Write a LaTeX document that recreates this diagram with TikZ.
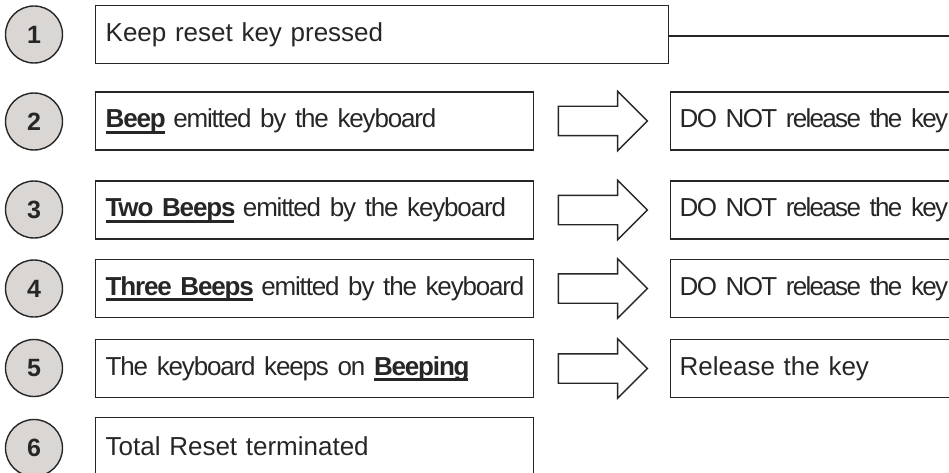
\documentclass[tikz,border=0pt]{standalone}
\usepackage{fontspec}
\setmainfont{Liberation Sans}
\newfontfamily\tightfont[LetterSpace=-4.5, WordSpace=0.85]{Liberation Sans}
\newfontfamily\tighterfont[LetterSpace=-6.5, WordSpace=0.85]{Liberation Sans}
\usetikzlibrary{shapes.arrows}
\definecolor{discgray}{HTML}{DAD6D4}
\definecolor{inkgray}{HTML}{262626}
\newcommand{\keyword}[1]{\setbox0\hbox{\textbf{#1}}\rlap{\smash{\lower6pt\hbox{\vrule width\wd0 height 2.8pt depth 0pt}}}\box0\relax}

\begin{document}
\begin{tikzpicture}[x=1pt,y=-1pt]
    \tikzset{stepnum/.style={draw=inkgray, shape=circle, fill=discgray, line width=1.4pt,
                 minimum size=57pt, inner sep=0pt, text=inkgray, font=\fontsize{25}{28}\selectfont\bfseries},
             stepbox/.style={draw=inkgray, shape=rectangle, line width=1.4pt, anchor=west,
                 minimum height=58pt, inner xsep=10pt, inner ysep=0pt, text width=418pt,
                 align=left, text=inkgray, font=\fontsize{26}{30}\selectfont},
             tight/.style={font=\tightfont\fontsize{26}{30}\selectfont},
             tighter/.style={font=\tighterfont\fontsize{26}{30}\selectfont},
             actbox/.style={stepbox, text width=300pt, inner xsep=9pt},
             goarrow/.style={draw=inkgray, shape=single arrow, line width=1.4pt, fill=white,
                 inner sep=14pt, single arrow head extend=15pt, minimum height=89pt}}
    \path[use as bounding box, clip] (0,0) rectangle (949,473);

    \node[stepnum] (n1) at (34, 34.5){1};
    \node[stepnum] (n2) at (34, 121.5){2};
    \node[stepnum] (n3) at (34, 209.5){3};
    \node[stepnum] (n4) at (34, 288.5){4};
    \node[stepnum] (n5) at (34, 368){5};
    \node[stepnum] (n6) at (34, 448){6};

    \node[stepbox, text width=553pt] (s1) at (95, 34.5){Keep reset key pressed};
    \node[stepbox, tight] (s2) at (95, 121){\mbox{\keyword{Beep} emitted by the keyboard}};
    \node[stepbox, tight] (s3) at (95, 210){\mbox{\keyword{Two Beeps} emitted by the keyboard}};
    \node[stepbox, tight] (s4) at (95, 288.5){\mbox{\keyword{Three Beeps} emitted by the keyboard}};
    \node[stepbox, tight] (s5) at (95, 368.5){\mbox{The keyboard keeps on \keyword{Beeping}}};
    \node[stepbox] (s6) at (95, 446.5){Total Reset terminated};

    \node[goarrow] (g2) at (595.5, 121){};
    \node[goarrow] (g3) at (595.5, 210){};
    \node[goarrow] (g4) at (595.5, 288.5){};
    \node[goarrow] (g5) at (595.5, 368.5){};

    \node[actbox, tighter] (a2) at (670, 121){DO NOT release the key};
    \node[actbox, tighter] (a3) at (670, 210){DO NOT release the key};
    \node[actbox, tighter] (a4) at (670, 288.5){DO NOT release the key};
    \node[actbox] (a5) at (670, 368.5){Release the key};

    \coordinate (rail) at (960, 36);
    \draw[draw=inkgray, line width=1.4pt] (s1.east |- rail) -- (rail);
\end{tikzpicture}
\end{document}
